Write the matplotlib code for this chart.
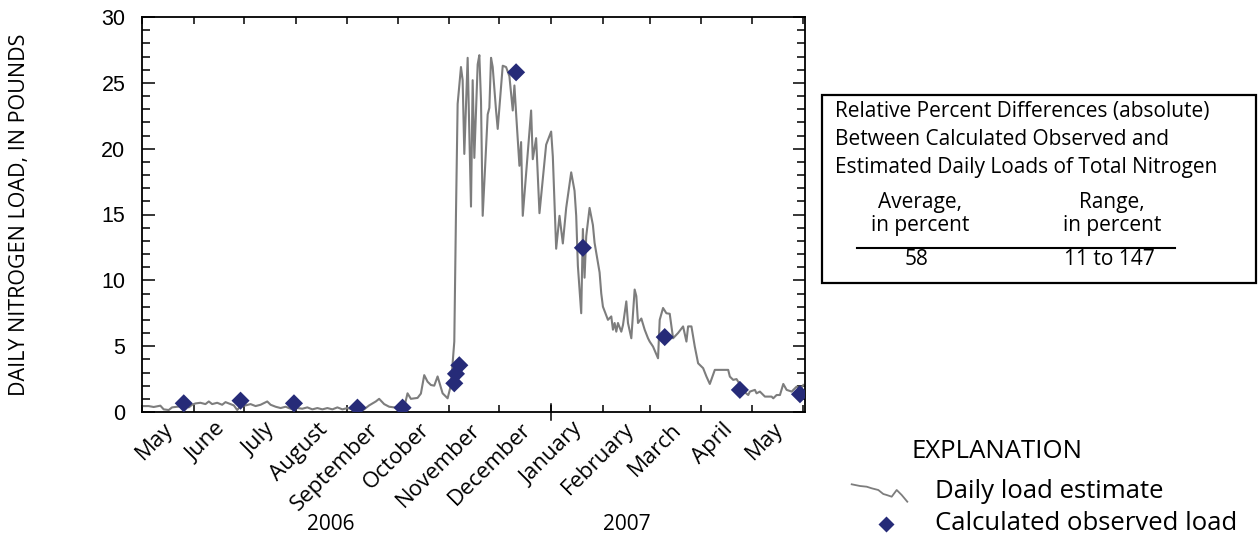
import matplotlib
matplotlib.use('Agg')
import matplotlib.pyplot as plt
import matplotlib.dates as mdates
import matplotlib.transforms as mtransforms
from matplotlib.lines import Line2D
from matplotlib.patches import Rectangle
import pandas as pd

plt.rcParams['font.family'] = ['Open Sans', 'DejaVu Sans']

# daily load estimate, pounds (vertices)
est_dates = [
    '2006-05-01', '2006-05-05', '2006-05-08', '2006-05-12', '2006-05-14', '2006-05-17',
    '2006-05-19', '2006-05-22', '2006-05-26', '2006-05-29', '2006-05-31',
    '2006-06-02', '2006-06-05', '2006-06-08', '2006-06-10', '2006-06-12', '2006-06-15',
    '2006-06-18', '2006-06-20', '2006-06-23', '2006-06-25', '2006-06-27', '2006-06-29',
    '2006-07-02', '2006-07-05', '2006-07-08', '2006-07-11', '2006-07-15', '2006-07-17',
    '2006-07-20', '2006-07-23', '2006-07-26', '2006-07-29',
    '2006-08-02', '2006-08-05', '2006-08-08', '2006-08-11', '2006-08-14', '2006-08-17',
    '2006-08-20', '2006-08-23', '2006-08-26', '2006-08-29',
    '2006-09-01', '2006-09-04', '2006-09-08', '2006-09-11', '2006-09-14', '2006-09-18',
    '2006-09-20', '2006-09-23', '2006-09-26', '2006-09-29',
    '2006-10-02', '2006-10-05', '2006-10-07', '2006-10-09', '2006-10-13', '2006-10-15',
    '2006-10-17', '2006-10-19', '2006-10-21', '2006-10-23', '2006-10-25', '2006-10-28',
    '2006-10-31',
    '2006-11-02', '2006-11-04', '2006-11-05', '2006-11-06', '2006-11-08', '2006-11-09',
    '2006-11-10', '2006-11-12', '2006-11-14', '2006-11-15', '2006-11-16', '2006-11-18',
    '2006-11-19', '2006-11-20', '2006-11-21', '2006-11-24', '2006-11-25', '2006-11-26',
    '2006-11-27', '2006-11-29', '2006-11-30',
    '2006-12-03', '2006-12-05', '2006-12-07', '2006-12-09', '2006-12-10', '2006-12-11',
    '2006-12-13', '2006-12-14', '2006-12-15', '2006-12-20', '2006-12-21', '2006-12-23',
    '2006-12-25', '2006-12-29',
    '2007-01-01', '2007-01-02', '2007-01-04', '2007-01-06', '2007-01-08', '2007-01-10',
    '2007-01-13', '2007-01-15', '2007-01-16', '2007-01-17', '2007-01-19', '2007-01-20',
    '2007-01-21', '2007-01-22', '2007-01-24', '2007-01-26', '2007-01-27', '2007-01-30',
    '2007-01-31',
    '2007-02-01', '2007-02-04', '2007-02-06', '2007-02-07', '2007-02-08', '2007-02-09',
    '2007-02-10', '2007-02-12', '2007-02-13', '2007-02-15', '2007-02-16', '2007-02-18',
    '2007-02-20', '2007-02-21', '2007-02-22', '2007-02-24', '2007-02-26', '2007-02-28',
    '2007-03-01', '2007-03-03', '2007-03-06', '2007-03-07', '2007-03-09', '2007-03-11',
    '2007-03-13', '2007-03-15', '2007-03-18', '2007-03-21', '2007-03-23', '2007-03-24',
    '2007-03-26', '2007-03-28', '2007-03-30', '2007-03-31',
    '2007-04-02', '2007-04-04', '2007-04-06', '2007-04-09', '2007-04-13', '2007-04-17',
    '2007-04-18', '2007-04-20', '2007-04-22', '2007-04-24', '2007-04-26', '2007-04-29',
    '2007-04-30',
    '2007-05-03', '2007-05-04', '2007-05-06', '2007-05-09', '2007-05-13', '2007-05-14',
    '2007-05-16', '2007-05-18', '2007-05-20', '2007-05-22', '2007-05-25', '2007-05-28',
    '2007-05-30', '2007-06-01',
]
est_load = [
    0.45, 0.45, 0.38, 0.48, 0.2, 0.15,
    0.35, 0.4, 0.45, 0.35, 0.55,
    0.65, 0.7, 0.6, 0.8, 0.6, 0.7,
    0.55, 0.75, 0.6, 0.5, 0.15, 0.45,
    0.5, 0.6, 0.45, 0.55, 0.8, 0.55,
    0.4, 0.3, 0.4, 0.25,
    0.3, 0.25, 0.35, 0.2, 0.3, 0.2,
    0.3, 0.2, 0.35, 0.2,
    0.3, 0.2, 0.15, 0.2, 0.5, 0.8,
    1.0, 0.6, 0.4, 0.35,
    0.35, 0.35, 1.42, 1.0, 1.07, 1.4,
    2.8, 2.3, 2.05, 2.0, 2.7, 1.42,
    1.04,
    2.05, 5.35, 15.0, 23.4, 26.2, 25.2,
    19.6, 26.9, 15.6, 25.2, 19.3, 26.4,
    27.1, 23.6, 14.9, 22.6, 23.1, 26.9,
    26.2, 22.9, 21.5,
    26.3, 26.2, 25.5, 22.9, 24.8, 22.7,
    18.7, 20.5, 14.9, 22.9, 19.2, 20.8,
    15.1, 20.3,
    21.3, 19.4, 12.4, 14.9, 12.8, 15.5,
    18.2, 16.8, 14.9, 11.1, 7.5, 13.9,
    10.2, 13.35, 15.5, 14.2, 12.85, 10.6,
    9.0,
    8.0, 7.0, 7.26, 6.25, 6.76, 6.1,
    6.76, 6.1, 6.6, 8.4, 6.76, 5.6,
    9.3, 8.8, 6.76, 7.1, 6.25, 5.6,
    5.35, 4.97, 4.08, 7.0, 7.9, 7.5,
    7.46, 5.6, 6.0, 6.5, 5.35, 6.5,
    6.5, 4.97, 3.7, 3.58,
    3.33, 2.69, 2.13, 3.2, 3.2, 3.2,
    2.69, 2.44, 2.5, 2.1, 1.6, 1.29,
    1.55,
    1.68, 1.42, 1.55, 1.17, 1.17, 1.04,
    1.29, 1.29, 2.13, 1.68, 1.55, 1.93,
    1.68, 2.05,
]

# calculated observed load, pounds
obs_dates = ['2006-05-26', '2006-06-29', '2006-07-31', '2006-09-07', '2006-10-04',
             '2006-11-04', '2006-11-05', '2006-11-07', '2006-12-11', '2007-01-20',
             '2007-03-10', '2007-04-24', '2007-05-30']
obs_load = [0.66, 0.86, 0.66, 0.33, 0.33, 2.18, 2.9, 3.55, 25.8, 12.47, 5.69, 1.68, 1.35]

year_labels = ['2006', '2007']
box_lines = ['Relative Percent Differences (absolute)',
             'Between Calculated Observed and',
             'Estimated Daily Loads of Total Nitrogen']
col_heads = ['Average,\nin percent', 'Range,\nin percent']
col_values = ['58', '11 to 147']

W, H = 1258, 540
fig = plt.figure(figsize=(W / 100, H / 100), dpi=100)
ax = fig.add_axes([142 / W, 1 - 412 / H, (805 - 142) / W, (412 - 17) / H])


def fx(x):
    return x / W


def fy(y):
    return 1 - y / H


ax.plot(pd.to_datetime(est_dates), est_load, color='#7d7d7d', lw=1.5, zorder=2)
ax.scatter(pd.to_datetime(obs_dates), obs_load, marker='D', s=85, color='#262b78',
           edgecolors='none', zorder=3)

ax.set_xlim(pd.Timestamp('2006-05-01'), pd.Timestamp('2007-06-02'))
ax.set_ylim(0, 30)

for s in ax.spines.values():
    s.set_linewidth(1.3)

ax.xaxis.set_major_locator(mdates.MonthLocator())
ax.xaxis.set_major_formatter(plt.NullFormatter())
ax.xaxis.set_minor_locator(mdates.MonthLocator(bymonthday=16))
ax.xaxis.set_minor_formatter(mdates.DateFormatter('%B'))
ax.tick_params(axis='x', which='major', direction='in', length=5, width=1.1, top=True)
ax.tick_params(axis='x', which='minor', length=0, pad=5, labelsize=16)

ax.set_yticks(range(0, 31, 5))
ax.set_yticks(range(0, 31), minor=True)
ax.tick_params(axis='y', which='major', direction='in', length=9, width=1.1, right=True,
               pad=12, labelsize=15.5)
ax.tick_params(axis='y', which='minor', direction='in', length=6, width=1.1, right=True)
for lab in ax.get_yticklabels():
    lab.set_family('Liberation Sans')

# month names sit a little left of mid-month
shift = mtransforms.ScaledTranslation(-4 / 100, 0, fig.dpi_scale_trans)
for lab in ax.get_xticklabels(minor=True):
    lab.set_rotation(45)
    lab.set_ha('right')
    lab.set_va('top')
    lab.set_rotation_mode('anchor')
    lab.set_transform(lab.get_transform() + shift)

# longer tick at the new year
jan = mdates.date2num(pd.Timestamp('2007-01-01'))
trans = mtransforms.blended_transform_factory(ax.transData, ax.transAxes)
ax.add_line(Line2D([jan, jan], [-0.02, 0.02], transform=trans, color='black',
                   lw=1.1, clip_on=False))

ax.set_ylabel('DAILY NITROGEN LOAD, IN POUNDS', fontsize=15.5)
ax.yaxis.set_label_coords((30 - 142) / (805 - 142), 0.5)

fig.text(fx(331), fy(525), year_labels[0], fontsize=15, ha='center', va='center')
fig.text(fx(627), fy(524), year_labels[1], fontsize=15, ha='center', va='center')

# differences box
fig.add_artist(Rectangle((fx(822), fy(283)), fx(1256) - fx(822), fy(95) - fy(283),
                         transform=fig.transFigure, fill=False, lw=1.6,
                         edgecolor='black'))
for i, line in enumerate(box_lines):
    fig.text(fx(835), fy(112 + 27.5 * i), line, fontsize=15, ha='left', va='center')
for cx, head, val in zip([920, 1112], col_heads, col_values):
    fig.text(fx(cx), fy(214), head, fontsize=15, ha='center', va='center',
             linespacing=1.1)
    fig.text(fx(cx - 3), fy(260), val, fontsize=15, ha='center', va='center')
fig.add_artist(Line2D([fx(857), fx(1175)], [fy(248), fy(248)], transform=fig.transFigure,
                      color='black', lw=1.5))

# explanation
fig.text(fx(912), fy(451), 'EXPLANATION', fontsize=18.5, ha='left', va='center')
lx = [851.7, 860, 866.7, 871.7, 878.3, 883.3, 886.7, 891.7, 896.7, 901.7, 907.3]
ly = [484.3, 486, 486.7, 488.3, 490, 494, 495, 496.7, 490, 495, 501.7]
fig.add_artist(Line2D([fx(v) for v in lx], [fy(v) for v in ly], transform=fig.transFigure,
                      color='#7d7d7d', lw=1.3))
fig.text(fx(935), fy(491), 'Daily load estimate', fontsize=18.5, ha='left', va='center')
fig.add_artist(Line2D([fx(886)], [fy(524)], transform=fig.transFigure, marker='D',
                      markersize=8, color='#262b78', markeredgecolor='none', ls='none'))
fig.text(fx(935), fy(524), 'Calculated observed load', fontsize=18.5, ha='left',
         va='center')

fig.savefig('out.png', dpi=100)
